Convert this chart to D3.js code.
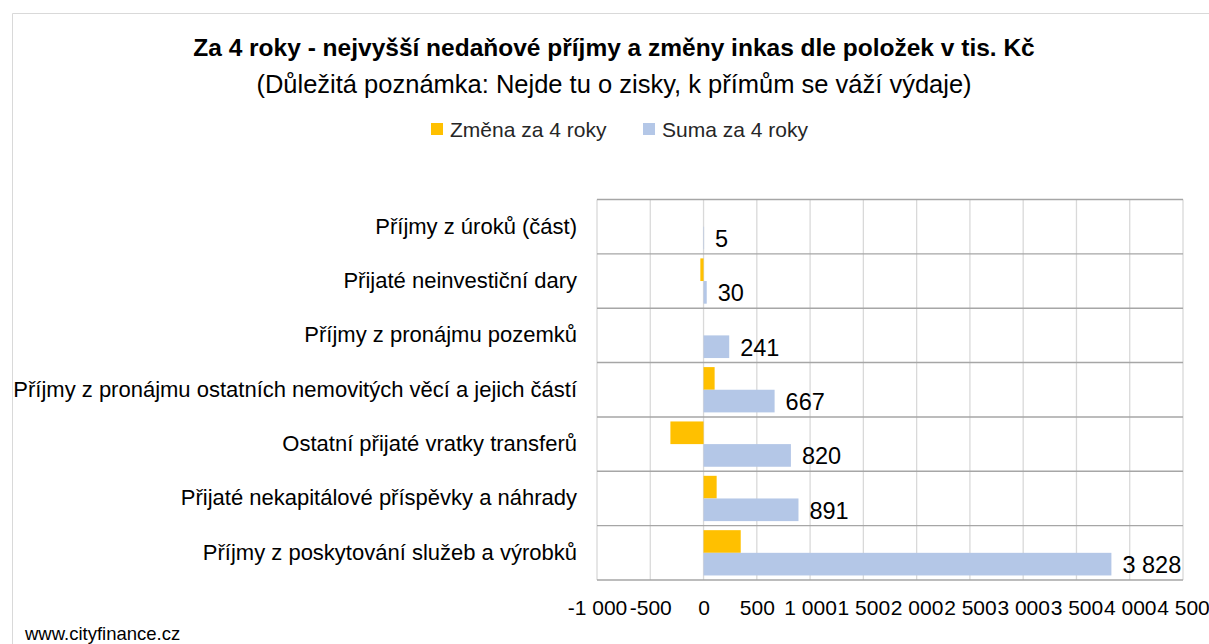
<!DOCTYPE html>
<html>
<head>
<meta charset="utf-8">
<script src="https://cdn.jsdelivr.net/npm/d3@7"></script>
<style>
  html, body { margin: 0; padding: 0; background: #fff; }
  svg { display: block; font-family: "Liberation Sans", Arial, sans-serif; }
</style>
</head>
<body>
<svg id="chart" width="1209" height="644"></svg>
<script>
// kategorie (odshora dolů) a hodnoty v tis. Kč
const categories = [
  'Příjmy z úroků (část)',
  'Přijaté neinvestiční dary',
  'Příjmy z pronájmu pozemků',
  'Příjmy z pronájmu ostatních nemovitých věcí a jejich částí',
  'Ostatní přijaté vratky transferů',
  'Přijaté nekapitálové příspěvky a náhrady',
  'Příjmy z poskytování služeb a výrobků'
];
const zmena = [0, -30, 0, 104, -311, 123, 349];   // Změna za 4 roky
const suma = [5, 30, 241, 667, 820, 891, 3828];   // Suma za 4 roky
const xTicks = [-1000, -500, 0, 500, 1000, 1500, 2000, 2500, 3000, 3500, 4000, 4500];
const seriesNames = ['Změna za 4 roky', 'Suma za 4 roky'];
const colors = ['#FFC000', '#B4C7E7'];

const svg = d3.select('#chart');
const margin = { top: 199.5, right: 26, bottom: 64, left: 597 };
const W = 1209, H = 644;

// rámeček grafu
svg.append('path')
  .attr('d', `M12.5,${H} V13.5 H${W}`)
  .attr('fill', 'none')
  .attr('stroke', '#d9d9d9')
  .attr('stroke-width', 1);

// nadpisy
svg.append('text')
  .attr('x', 614).attr('y', 56)
  .attr('text-anchor', 'middle')
  .attr('font-weight', 'bold')
  .attr('font-size', 24.5)
  .attr('fill', '#000')
  .text('Za 4 roky - nejvyšší nedaňové příjmy a změny inkas dle položek v tis. Kč');

svg.append('text')
  .attr('x', 614).attr('y', 93)
  .attr('text-anchor', 'middle')
  .attr('font-size', 25.5)
  .attr('fill', '#000')
  .text('(Důležitá poznámka: Nejde tu o zisky, k přímům se váží výdaje)');

// legenda
const legendX = [431, 643];
seriesNames.forEach((name, i) => {
  const g = svg.append('g').attr('transform', `translate(${legendX[i]},129)`);
  g.append('rect').attr('x', 0).attr('y', -6).attr('width', 12).attr('height', 12).attr('fill', colors[i]);
  g.append('text').attr('x', 19).attr('y', 7.5).attr('font-size', 21).attr('fill', '#262626').text(name);
});

const x = d3.scaleLinear()
  .domain([xTicks[0], xTicks[xTicks.length - 1]])
  .range([margin.left, W - margin.right]);

const y = d3.scaleBand()
  .domain(categories)
  .range([margin.top, H - margin.bottom])
  .paddingInner(0)
  .paddingOuter(0);

const inner = d3.scaleBand()
  .domain([0, 1])
  .range([0, y.bandwidth()])
  .paddingInner(0)
  .paddingOuter(0.2);

const fmt = v => d3.format(',')(v).replace(/,/g, ' ').replace('−', '-');

// svislá mřížka
svg.append('g')
  .selectAll('line')
  .data(xTicks)
  .join('line')
  .attr('x1', d => x(d)).attr('x2', d => x(d))
  .attr('y1', margin.top).attr('y2', H - margin.bottom)
  .attr('stroke', '#d9d9d9')
  .attr('stroke-width', 1.3);

// vodorovné čáry kategorií
const hLines = categories.map(c => y(c)).concat([H - margin.bottom]);
svg.append('g')
  .selectAll('line')
  .data(hLines)
  .join('line')
  .attr('x1', margin.left).attr('x2', W - margin.right)
  .attr('y1', d => d).attr('y2', d => d)
  .attr('stroke', '#a6a6a6')
  .attr('stroke-width', 1.4);

// sloupce
const series = [zmena, suma];
series.forEach((vals, s) => {
  svg.append('g')
    .selectAll('rect')
    .data(vals)
    .join('rect')
    .attr('x', d => x(Math.min(0, d)))
    .attr('width', d => Math.abs(x(d) - x(0)))
    .attr('y', (d, i) => y(categories[i]) + inner(s))
    .attr('height', inner.bandwidth())
    .attr('fill', colors[s]);
});

// popisky hodnot u sumy
svg.append('g')
  .selectAll('text')
  .data(suma)
  .join('text')
  .attr('x', d => x(d) + 11)
  .attr('y', (d, i) => y(categories[i]) + inner(1) + inner.bandwidth() / 2 + 9)
  .attr('font-size', 23.5)
  .attr('fill', '#000')
  .text(d => fmt(d));

// popisky kategorií
svg.append('g')
  .selectAll('text')
  .data(categories)
  .join('text')
  .attr('x', 577)
  .attr('y', d => y(d) + y.bandwidth() / 2 + 7)
  .attr('text-anchor', 'end')
  .attr('font-size', 22)
  .attr('fill', '#000')
  .text(d => d);

// osa x
const xAxis = svg.append('g')
  .attr('transform', `translate(0,${H - margin.bottom})`)
  .call(d3.axisBottom(x).tickValues(xTicks).tickFormat(fmt).tickSize(0).tickPadding(20));
xAxis.select('.domain').remove();
xAxis.selectAll('text')
  .attr('font-family', '"Liberation Sans", Arial, sans-serif')
  .attr('font-size', 21)
  .attr('fill', '#000');

// zdroj
svg.append('text')
  .attr('x', 25).attr('y', 640)
  .attr('font-size', 18.5)
  .attr('fill', '#000')
  .text('www.cityfinance.cz');
</script>
</body>
</html>
